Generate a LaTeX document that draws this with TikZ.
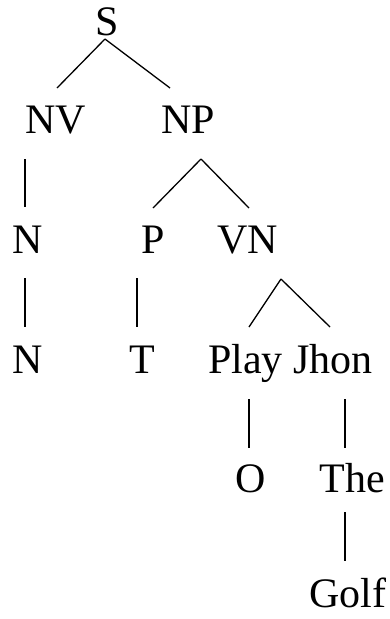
\documentclass[tikz,border=0pt]{standalone}
\usepackage{fontspec}
\setmainfont{Liberation Serif}
\begin{document}
\begin{tikzpicture}[x=1pt,y=-1pt,line width=1.3pt,
  every node/.style={inner sep=0,anchor=base,font=\fontsize{42}{50}\selectfont}]
\useasboundingbox (0,0) rectangle (390,619);
\node (S) at (107,35) {S};
\node (NV) at (55.5,133) {NV};
\node (NP) at (188,133) {NP};
\node (N1) at (28,253) {N};
\node (P) at (153,253) {P};
\node (VN) at (248,253) {VN};
\node (N2) at (28,373) {N};
\node (T) at (142,373) {T};
\node (Play) at (245.5,373) {Play};
\node (Jhon) at (333.3,373) {Jhon};
\node (O) at (251,492) {O};
\node (The) at (352,492) {The};
\node (Golf) at (348,607) {Golf};
% branch ends
\coordinate (S-fork) at (105,39);
\coordinate (NV-top) at (57,88);
\coordinate (NP-top) at (170,88);
\coordinate (NV-bot) at (25,159);
\coordinate (N1-top) at (25,207);
\coordinate (NP-fork) at (201,159);
\coordinate (P-top) at (153,208);
\coordinate (VN-top) at (249,208);
\coordinate (N1-bot) at (25,278);
\coordinate (N2-top) at (25,327);
\coordinate (P-bot) at (137,278);
\coordinate (T-top) at (137,327);
\coordinate (VN-fork) at (281,279);
\coordinate (Play-top) at (249,327);
\coordinate (Jhon-top) at (330,327);
\coordinate (Play-bot) at (249,399);
\coordinate (O-top) at (249,448);
\coordinate (Jhon-bot) at (345,399);
\coordinate (The-top) at (345,448);
\coordinate (The-bot) at (345,512);
\coordinate (Golf-top) at (345,561);
\draw (S-fork) -- (NV-top);
\draw (S-fork) -- (NP-top);
\draw (NV-bot) -- (N1-top);
\draw (NP-fork) -- (P-top);
\draw (NP-fork) -- (VN-top);
\draw (N1-bot) -- (N2-top);
\draw (P-bot) -- (T-top);
\draw (VN-fork) -- (Play-top);
\draw (VN-fork) -- (Jhon-top);
\draw (Play-bot) -- (O-top);
\draw (Jhon-bot) -- (The-top);
\draw (The-bot) -- (Golf-top);
\end{tikzpicture}
\end{document}
